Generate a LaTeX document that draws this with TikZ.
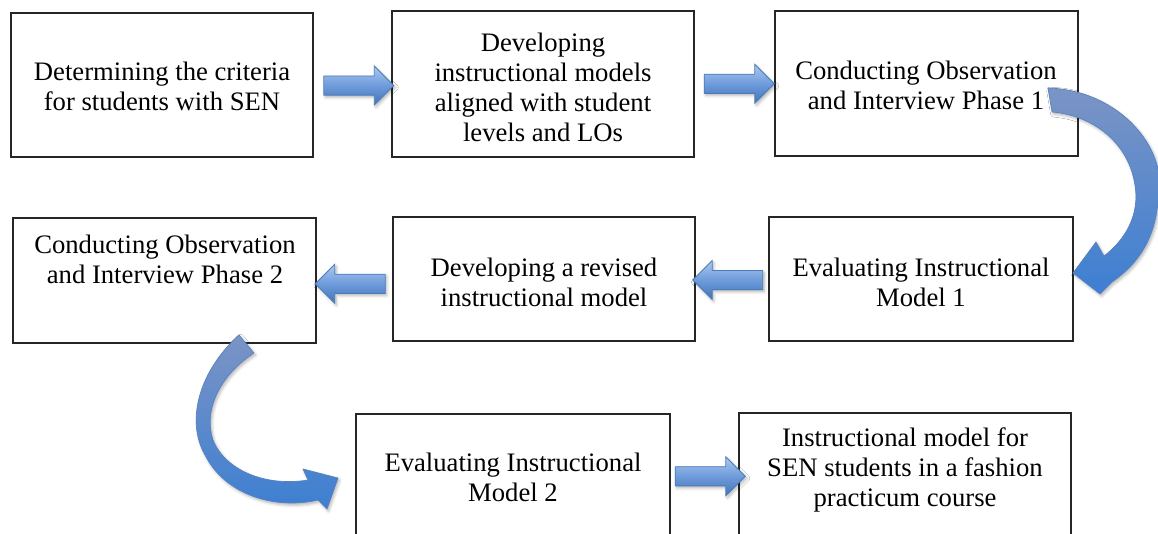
\documentclass[tikz,border=0pt]{standalone}
\usepackage{fontspec}
\setmainfont{Liberation Serif}
\usetikzlibrary{shapes.arrows,calc,shadows.blur}

\definecolor{arrtop}{HTML}{ADC9F1}
\definecolor{arrmid}{HTML}{6E9BDA}
\definecolor{arrbot}{HTML}{4273BC}
\definecolor{arredge}{HTML}{4A7CBB}
\definecolor{curvtop}{HTML}{7B94C5}
\definecolor{curvbot}{HTML}{3D7FD2}
\definecolor{curvedge}{HTML}{5682BE}

\begin{document}
\begin{tikzpicture}[x=0.75pt,y=-0.75pt,
  box/.style={draw=black!85, line width=0.9pt, fill=white, inner sep=0pt, outer sep=0pt},
  txt/.style={align=center, inner sep=0pt, font=\fontsize{20pt}{22.5pt}\selectfont},
  softshadow/.style={blur shadow={shadow xshift=1.2pt, shadow yshift=-1.6pt,
      shadow blur radius=2.2pt, shadow opacity=30}},
  blockarrow/.style={single arrow, draw=arredge, line width=0.6pt,
      top color=arrtop, bottom color=arrbot, middle color=arrmid,
      minimum height=52.5pt, minimum width=28.5pt, single arrow head extend=7.4pt,
      inner xsep=0pt, inner ysep=6.9pt, outer sep=0pt, softshadow},
  leftward/.style={shape border rotate=180},
  bentarrow/.style={draw=curvedge, line width=0.5pt, top color=curvtop,
      bottom color=curvbot, softshadow}
]
\useasboundingbox (0,0) rectangle (1158,533);
\clip (0,0) rectangle (1158,533);

% process boxes
\node[box, minimum width=226.5pt, minimum height=108pt]    (b1) at (162,85) {};
\node[box, minimum width=226.5pt, minimum height=109.5pt]  (b2) at (543,84) {};
\node[box, minimum width=227.25pt, minimum height=108.75pt](b3) at (926.5,83.5) {};
\node[box, minimum width=227.25pt, minimum height=93.75pt] (b4) at (164.5,280.5) {};
\node[box, minimum width=226.5pt, minimum height=93pt]     (b5) at (544,279) {};
\node[box, minimum width=228pt, minimum height=93pt]       (b6) at (921,279) {};
\node[box, minimum width=235.5pt, minimum height=109.5pt]  (b7) at (513,487) {};
\node[box, minimum width=249pt, minimum height=110.25pt]   (b8) at (905,486.5) {};

% box texts
\node[txt] (t1) at (162,86.5) {Determining the criteria\\for students with SEN};
\node[txt] (t2) at (543,87) {Developing\\instructional models\\aligned with student\\levels and LOs};
\node[txt] (t3) at (926,85.5) {Conducting Observation\\and Interview Phase 1};
\node[txt] (t4) at (165,259.5) {Conducting Observation\\and Interview Phase 2};
\node[txt] (t5) at (544,282) {Developing a revised\\instructional model};
\node[txt] (t6) at (921,282) {Evaluating Instructional\\Model 1};
\node[txt] (t7) at (513,477) {Evaluating Instructional\\Model 2};
\node[txt] (t8) at (905,470) {Instructional model for\\SEN students in a fashion\\practicum course};

% straight block arrows between neighbouring boxes
\node[blockarrow] (a1) at ($(b1.east)!0.5!(b2.west)+(1.5,1)$) {};
\node[blockarrow] (a2) at ($(b2.east)!0.5!(b3.west)+(0,0)$) {};
\node[blockarrow, leftward] (a3) at ($(b5.west)!0.5!(b4.east)+(0.5,4)$) {};
\node[blockarrow, leftward] (a4) at ($(b6.west)!0.5!(b5.east)+(0.5,1)$) {};
\node[blockarrow] (a5) at ($(b7.east)!0.5!(b8.west)+(1,-10.5)$) {};

% bent arrow from the first observation box down to the first evaluation
\begin{scope}[shift={(b3.south east)}]
  \path[bentarrow] (-30,-68) .. controls (42,-66) and (92,-6) .. (80,44)
    .. controls (77,89) and (54,112) .. (34,126) -- (22,138) -- (-5,117)
    -- (18,86) -- (26,100) .. controls (47,84) and (62,59) .. (57,29)
    .. controls (50,-16) and (12,-41) .. (-26,-44) -- cycle;
\end{scope}

% bent arrow from the second observation box down to the second evaluation
\begin{scope}[shift={(b4.south east)}]
  \path[bentarrow] (-77,-8) .. controls (-116,27) and (-131,77) .. (-111,112)
    .. controls (-91,152) and (-41,167) .. (2,157) -- (11,166) -- (22,135)
    -- (-13,126) -- (-8,137) .. controls (-51,144) and (-91,127) .. (-103,97)
    .. controls (-113,67) and (-96,32) .. (-62,10) -- cycle;
\end{scope}
\end{tikzpicture}
\end{document}
